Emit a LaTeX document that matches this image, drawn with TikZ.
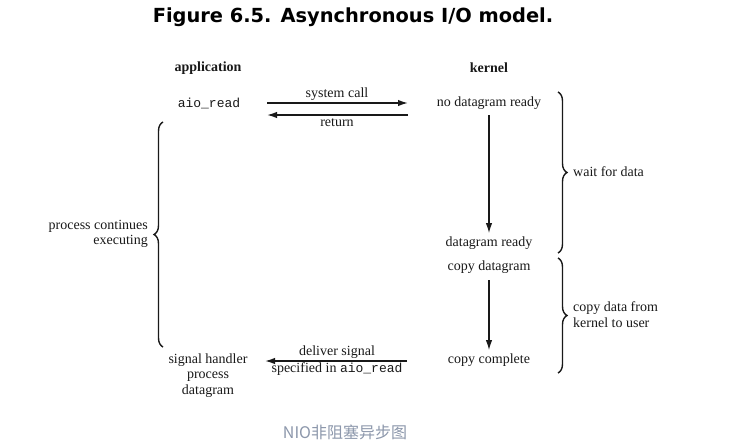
\documentclass[tikz,border=0pt]{standalone}
\usepackage{fontspec}
\setmainfont{Liberation Serif}
\setmonofont{Liberation Mono}
\newfontfamily\titlefont{DejaVu Sans}
\newfontfamily\cjkfont{Noto Sans CJK SC}
\usepackage{xcolor}
\usetikzlibrary{arrows.meta,decorations.pathreplacing}
\definecolor{inkgray}{RGB}{25,25,25}
\definecolor{capgray}{RGB}{140,151,171}

\begin{document}
\begin{tikzpicture}[x=1pt, y=-1pt, >={Latex[length=10pt,width=6.5pt]},
  txt/.style={inner sep=0pt, text=inkgray, font=\fontsize{14}{15.5}\selectfont},
  head/.style={txt, font=\fontsize{14}{15.5}\selectfont\bfseries},
  code/.style={inner sep=0pt, text=inkgray, font=\fontsize{13}{15}\selectfont\ttfamily},
  call/.style={->, draw=inkgray, line width=1.5pt},
  flow/.style={->, draw=inkgray, line width=1.1pt},
  curly/.style={draw=inkgray, line width=1.4pt, decorate, decoration={brace, amplitude=9pt}}]
  % Rahmen
  \useasboundingbox[fill=white] (0,0) rectangle (736,447);

  % Titel
  \node[inner sep=0pt, font=\titlefont\fontsize{19.4}{21}\selectfont\bfseries] (title) at (353,17) {Figure 6.5. Asynchronous I/O model.};

  % Spalten
  \node[head] (app) at (208,68) {application};
  \node[head] (kern) at (489,68) {kernel};

  % Aufruf
  \node[code] (aioread) at (209,103) {aio\_read};
  \node[txt] (nodgram) at (489,103) {no datagram ready};
  \draw[call, shorten <=58pt, shorten >=81pt] (aioread.center) -- (nodgram.center);
  \draw[call, shorten <=81pt, shorten >=58pt] ([yshift=-12pt]nodgram.center) -- ([yshift=-12pt]aioread.center);
  \node[txt] (syscall) at (337,94) {system call};
  \node[txt] (ret) at (337,123) {return};

  % Kernel
  \node[txt] (dgready) at (489,243) {datagram ready};
  \node[txt] (cpdgram) at (489,267) {copy datagram};
  \node[txt] (cpdone) at (489,360) {copy complete};
  \draw[flow, shorten <=12pt, shorten >=10pt] (nodgram.center) -- (dgready.center);
  \draw[flow, shorten <=13pt, shorten >=10pt] (cpdgram.center) -- (cpdone.center);

  % Signal
  \node[txt, align=center] (sighand) at (208,375.5) {signal handler\\process\\datagram};
  \draw[call, shorten <=82pt, shorten >=57pt] ([yshift=-1pt]cpdone.center) -- ([yshift=14.5pt]sighand.center);
  \node[txt] (deliver) at (337,352) {deliver signal};
  \node[txt] (specin) at (337,369) {specified in \texttt{\fontsize{13}{15}\selectfont aio\_read}};

  % Klammern
  \draw[curly] (163,347) -- (163,122);
  \node[txt, align=right, anchor=east] (cont) at (148,234) {process continues\\executing};
  \draw[curly] (558,92) -- (558,253);
  \node[txt, anchor=west] (wait) at (573,172) {wait for data};
  \draw[curly] (558,258) -- (558,373);
  \node[txt, align=left, anchor=west] (copyto) at (573,314.5) {copy data from\\kernel to user};

  % Bildunterschrift
  \node[inner sep=0pt, text=capgray, font=\cjkfont\fontsize{16}{18}\selectfont] (caption) at (345,432) {NIO非阻塞异步图};
\end{tikzpicture}
\end{document}
